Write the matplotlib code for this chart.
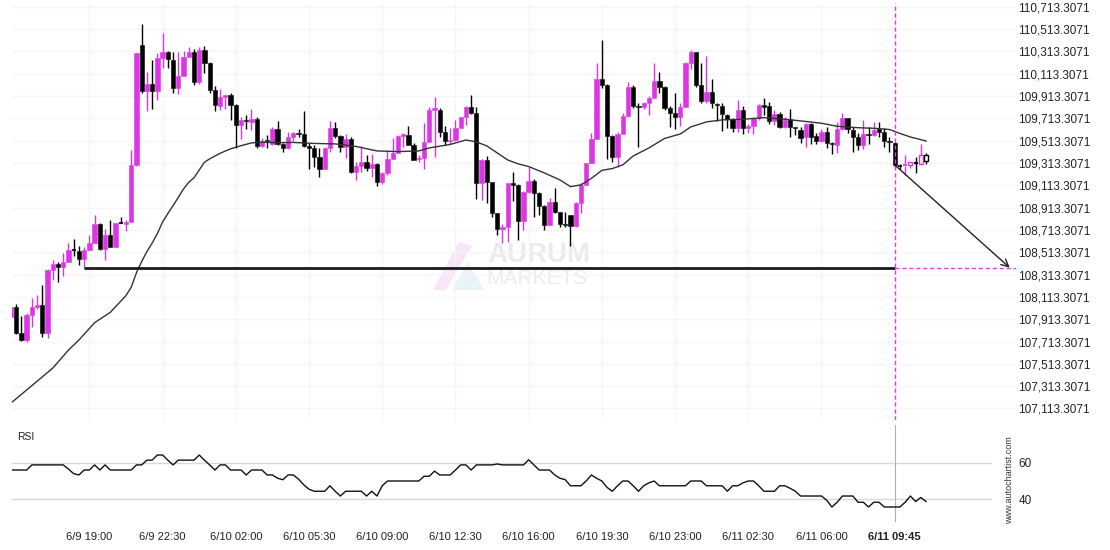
import matplotlib
matplotlib.use('Agg')
import matplotlib.pyplot as plt
from matplotlib.patches import Rectangle, Polygon
import numpy as np

plt.rcParams['font.family'] = ['Liberation Sans', 'DejaVu Sans']

# ---------------- data (15-minute bars, index 0 = 6/9 15:15) ----------------
opens = [107937,108027,107794,107723,107955,108027,108042,107794,108355,108409,
         108385,108427,108535,108526,108454,108535,108594,108767,108544,108669,
         108564,108776,108770,108788,109296,110370,109958,110021,109958,110257,
         110308,110236,109988,110093,110266,110308,110042,110326,110206,109967,
         109824,109905,109920,109833,109654,109699,109684,109708,109466,109517,
         109484,109618,109481,109451,109549,109582,109570,109466,109451,109370,
         109263,109451,109630,109555,109460,109532,109236,109290,109326,109272,
         109305,109140,109221,109346,109400,109555,109564,109475,109346,109361,
         109499,109788,109788,109588,109508,109520,109624,109723,109812,109758,
         109131,109340,109140,108863,108720,108738,109132,109117,108797,109057,
         109152,109048,108932,108759,108967,108878,108767,108848,108744,108958,
         109117,109311,109529,110063,110012,109555,109370,109573,109735,109991,
         109827,109818,109848,109899,110048,109997,109803,109758,109729,109812,
         110212,110308,110012,109872,109952,109842,109824,109743,109708,109624,
         109788,109624,109648,109714,109833,109824,109693,109749,109633,109705,
         109636,109609,109549,109663,109555,109514,109588,109490,109475,109618,
         109714,109609,109543,109475,109576,109564,109615,109588,109514,109496,
         109293,109290,109296,109320,109305,109385]
highs = [108027,108048,107943,107967,108102,108129,108221,108361,108445,108424,
         108505,108594,108630,108570,108564,108666,108845,108773,108720,108803,
         108779,108833,108803,109430,110302,110558,110131,110236,110296,110475,
         110314,110305,110305,110320,110355,110332,110350,110361,110215,110003,
         109973,109926,109938,109842,109729,109743,109794,109729,109535,109564,
         109633,109693,109490,109588,109594,109621,109782,109490,109472,109445,
         109460,109690,109678,109564,109573,109549,109326,109469,109385,109394,
         109317,109236,109430,109534,109564,109585,109645,109496,109385,109669,
         109818,109902,109803,109645,109630,109699,109729,109824,109923,109818,
         109346,109376,109146,108869,108767,109138,109236,109123,109063,109281,
         109167,109054,108938,109003,109087,108878,108878,108848,108964,109132,
         109317,109585,110206,110415,110018,109564,109594,109764,110042,110012,
         109848,109863,109914,110206,110131,110003,109824,109937,109854,110221,
         110326,110311,110212,110272,110063,109848,109848,109749,109714,109878,
         109824,109663,109720,109839,109893,109863,109788,109767,109729,109794,
         109639,109633,109669,109669,109579,109615,109633,109505,109684,109758,
         109720,109639,109579,109699,109633,109684,109684,109630,109543,109502,
         109305,109385,109326,109370,109484,109406]
lows = [107937,107779,107714,107705,107842,108003,107752,107743,108266,108245,
        108302,108424,108481,108400,108370,108535,108594,108529,108445,108558,
        108558,108767,108708,108782,109290,109937,109779,109794,109878,110161,
        110161,109943,109931,110093,110266,110012,110021,110117,109943,109782,
        109788,109800,109699,109445,109526,109615,109609,109445,109454,109445,
        109475,109475,109415,109436,109514,109549,109454,109257,109281,109191,
        109260,109409,109540,109409,109355,109227,109161,109233,109245,109185,
        109111,109126,109206,109346,109400,109460,109475,109340,109326,109260,
        109499,109370,109549,109475,109484,109514,109624,109654,109752,108988,
        108982,108958,108833,108669,108600,108609,108976,108624,108714,109048,
        108833,108848,108714,108753,108869,108737,108737,108565,108738,108869,
        109117,109311,109529,109982,109346,109326,109281,109573,109729,109803,
        109454,109794,109743,109893,109937,109788,109639,109615,109645,109812,
        110152,109991,109848,109848,109803,109693,109603,109624,109594,109594,
        109573,109579,109573,109699,109743,109663,109654,109624,109624,109549,
        109564,109496,109460,109484,109484,109505,109445,109391,109400,109609,
        109585,109415,109430,109436,109484,109558,109549,109454,109415,109281,
        109257,109206,109266,109227,109305,109305]
closes = [108027,107794,107723,107952,108024,108042,107794,108355,108409,108385,
          108427,108535,108529,108454,108535,108594,108767,108544,108669,108564,
          108773,108770,108788,109296,110302,109958,110021,109958,110257,110308,
          110242,109988,110093,110266,110308,110042,110326,110206,109967,109830,
          109902,109920,109836,109654,109699,109687,109708,109466,109514,109508,
          109618,109481,109451,109549,109585,109573,109469,109451,109370,109263,
          109451,109630,109558,109460,109532,109236,109287,109326,109272,109305,
          109146,109221,109346,109400,109555,109570,109475,109340,109361,109499,
          109788,109803,109594,109514,109520,109624,109723,109812,109764,109131,
          109340,109146,108863,108720,108738,109132,109120,108797,109057,109155,
          109048,108932,108759,108967,108878,108767,108755,108744,108958,109117,
          109311,109529,110063,110012,109555,109370,109573,109735,109991,109824,
          109818,109848,109899,110048,109997,109803,109764,109729,109812,110212,
          110308,110012,109872,109952,109848,109830,109749,109708,109630,109788,
          109624,109648,109714,109833,109812,109693,109749,109639,109699,109633,
          109627,109534,109663,109549,109514,109594,109490,109481,109618,109714,
          109615,109543,109475,109573,109567,109609,109594,109514,109505,109296,
          109287,109296,109320,109311,109385,109335]

ma_idx = [0, 4, 8, 11, 13, 16, 19, 22, 23, 24, 25, 26, 27, 28, 29, 30, 31, 32,
          33, 34, 35, 36, 37, 38, 39, 40, 42, 44, 46, 48, 51, 54, 58, 62, 66, 70,
          74, 78, 80, 84, 87, 89, 91, 93, 95, 97, 99, 102, 105, 107, 109, 111,
          113, 115, 117, 119, 122, 125, 128, 130, 133, 136, 140, 144, 148, 152,
          155, 158, 162, 165, 168, 170, 172, 175]
ma_val = [107162, 107318, 107475, 107637, 107727, 107882, 107975, 108125,
          108200, 108330, 108430, 108520, 108595, 108680, 108785, 108860,
          108930, 109005, 109080, 109140, 109180, 109250, 109320, 109350,
          109375, 109400, 109440, 109468, 109493, 109500, 109495, 109497,
          109488, 109484, 109461, 109421, 109415, 109421, 109448, 109479,
          109519, 109502, 109466, 109403, 109340, 109305, 109281, 109224,
          109161, 109101, 109117, 109175, 109247, 109263, 109296, 109376,
          109448, 109533, 109573, 109636, 109681, 109699, 109705, 109719,
          109705, 109685, 109669, 109642, 109629, 109624, 109613, 109578,
          109546, 109510]

rsi = [56, 56, 56, 56, 58.8, 58.8, 58.8, 58.8, 58.8, 58.8,
       58.8, 56.5, 54, 53.3, 56, 56, 58.8, 56, 58.8, 56,
       56, 56, 56, 56, 58.8, 58.8, 61.4, 61.4, 64.2, 64.2,
       61.4, 58.8, 61.4, 61.4, 61.4, 61.4, 64.2, 61.4, 58.8, 56,
       58.8, 58.8, 56, 56, 56, 53.3, 56, 56, 56, 53.3,
       53.3, 51.5, 50.7, 53.3, 53.3, 51, 47.9, 45.5, 44.4, 44.4,
       44.4, 47.4, 44.4, 41.8, 44.4, 44.4, 44.4, 44.4, 41.8, 44.4,
       41.8, 47.4, 50, 50, 50, 50, 50, 50, 50, 52.6,
       52.6, 55.4, 53.3, 53.3, 53.3, 56, 58.8, 58.8, 56, 58.8,
       58.8, 58.8, 58.8, 59.3, 58.8, 58.8, 58.8, 58.8, 58.8, 61.6,
       58.8, 56, 56, 56, 53.3, 51.5, 50.7, 47.4, 47.4, 47.4,
       50, 53.3, 51.5, 50, 46.5, 44.4, 47.4, 50, 50, 47.4,
       44.4, 47.4, 49, 50, 47.4, 47.4, 47.4, 47.4, 47.4, 47.4,
       50, 50, 50, 47.4, 47.4, 47.4, 47.4, 44.4, 47.4, 47.4,
       49, 50, 50, 47.4, 44.4, 44.4, 44.4, 47.4, 47.4, 46,
       44.4, 41.8, 41.8, 41.8, 41.8, 41.8, 39.5, 35.8, 38.4, 41.8,
       41.8, 41.8, 38.4, 38.4, 35.8, 38.4, 38.4, 35.8, 35.8, 35.8,
       35.8, 38.4, 41.8, 38.8, 41, 38.8]

tick_pos = [15, 29, 43, 57, 71, 85, 99, 113, 127, 141, 155, 169]
tick_labels = ['6/9 19:00', '6/9 22:30', '6/10 02:00', '6/10 05:30',
               '6/10 09:00', '6/10 12:30', '6/10 16:00', '6/10 19:30',
               '6/10 23:00', '6/11 02:30', '6/11 06:00', '6/11 09:45']

support_level = 108375
support_start = 14
pattern_end = 169
target_x = 191.0
price_ticks = [107113.3071 + 200 * k for k in range(19)]

# ---------------- figure ----------------
W, H = 1110, 550
fig = plt.figure(figsize=(W / 100, H / 100), dpi=100)


def rect(x0, y0, x1, y1):
    return [x0 / W, 1 - y1 / H, (x1 - x0) / W, (y1 - y0) / H]


ax = fig.add_axes(rect(12, 3, 1016, 420))
rax = fig.add_axes(rect(12, 425, 1016, 522))

BULL = '#dc35e3'
BEAR = '#000000'
n = len(opens)
bw = 0.82
for i in range(n):
    o, h, l, c = opens[i], highs[i], lows[i], closes[i]
    col = BULL if c > o else BEAR
    top, bot = max(o, c), min(o, c)
    hollow = i > pattern_end
    ax.vlines(i, top, h, color=col, lw=1, zorder=3)
    ax.vlines(i, l, bot, color=col, lw=1, zorder=3)
    if top - bot < 9:
        ax.hlines((top + bot) / 2, i - bw / 2, i + bw / 2, color=col, lw=1.2, zorder=4)
    elif hollow:
        ax.add_patch(Rectangle((i - 0.36, bot), 0.72, top - bot, facecolor='white',
                               edgecolor=col, lw=1, zorder=4))
    else:
        ax.add_patch(Rectangle((i - bw / 2, bot), bw, top - bot, facecolor=col,
                               edgecolor=col, lw=0.4, zorder=4))

ax.plot(ma_idx, ma_val, color='#333333', lw=1, zorder=5)

ax.hlines(support_level, support_start, pattern_end, color='#1a1a1a', lw=2, zorder=5)
ax.axvline(pattern_end, color='#e23be6', lw=1, ls=(0, (3, 2)), zorder=6)
ax.hlines(support_level, pattern_end, 192.2, color='#e23be6', lw=1, ls=(0, (3, 2)), zorder=6)
ax.annotate('', xy=(target_x, support_level), xytext=(pattern_end, closes[pattern_end]),
            arrowprops=dict(arrowstyle='->', color='#222222', lw=1, shrinkA=0, shrinkB=0,
                            mutation_scale=13), zorder=7)

ax.set_xlim(0.2, 192.2)
ax.set_ylim(107010.1, 110746.5)
ax.set_xticks(tick_pos)
ax.set_xticklabels([])
ax.set_yticks(price_ticks)
ax.set_yticklabels(['{:,.4f}'.format(v) for v in price_ticks])
ax.yaxis.tick_right()
ax.tick_params(axis='both', length=0, labelsize=8.5, labelcolor='#222222', pad=1.5)
ax.grid(True, color='#f5f5f5', lw=1, zorder=0)
for s in ax.spines.values():
    s.set_visible(False)

# watermark
ax.text(487 / W, 1 - 255 / H, 'AURUM', transform=fig.transFigure, fontsize=20,
        fontweight='bold', color='#ebebeb', ha='left', va='center', zorder=1)
ax.text(486 / W, 1 - 278 / H, 'MARKETS', transform=fig.transFigure, fontsize=15,
        color='#ececec', ha='left', va='center', zorder=1)


def fpt(x, y):
    return (x / W, 1 - y / H)


ax.add_patch(Polygon([fpt(433, 290), fpt(446, 290), fpt(472, 246), fpt(459, 242)],
                     closed=True, transform=fig.transFigure, facecolor='#f3d6f3',
                     edgecolor='none', alpha=0.6, zorder=1))
ax.add_patch(Polygon([fpt(452, 290), fpt(468, 262), fpt(484, 290)], closed=True,
                     transform=fig.transFigure, facecolor='#d8ecf6', edgecolor='none',
                     alpha=0.6, zorder=1))

# ---------------- RSI panel ----------------
rax.plot(range(len(rsi)), rsi, color='#111111', lw=1, zorder=3)
gx = (991 - 12) / (1016 - 12)
rax.axhline(60, xmax=gx, color='#d9d9d9', lw=1, zorder=1)
rax.axhline(40, xmax=gx, color='#d9d9d9', lw=1, zorder=1)
rax.axvline(pattern_end, color='#b0b0b0', lw=0.8, zorder=2)
rax.set_xlim(0.2, 192.2)
rax.set_ylim(27.6, 80.6)
rax.set_yticks([40, 60])
rax.set_yticklabels(['40', '60'])
rax.yaxis.tick_right()
rax.set_xticks(tick_pos)
rax.set_xticklabels(tick_labels)
rax.tick_params(axis='y', length=0, labelsize=8.5, labelcolor='#222222', pad=2)
rax.tick_params(axis='x', length=0, labelsize=8, labelcolor='#222222', pad=7)
rax.get_xticklabels()[-1].set_fontweight('bold')
for s in rax.spines.values():
    s.set_visible(False)

fig.text(17 / W, 1 - 437 / H, 'RSI', fontsize=7.5, color='#222222', ha='left', va='center')
fig.text(1010 / W, 1 - 480 / H, 'www.autochartist.com', fontsize=6.5, color='#333333',
         rotation=90, ha='center', va='center')

fig.savefig('out.png', dpi=100)
